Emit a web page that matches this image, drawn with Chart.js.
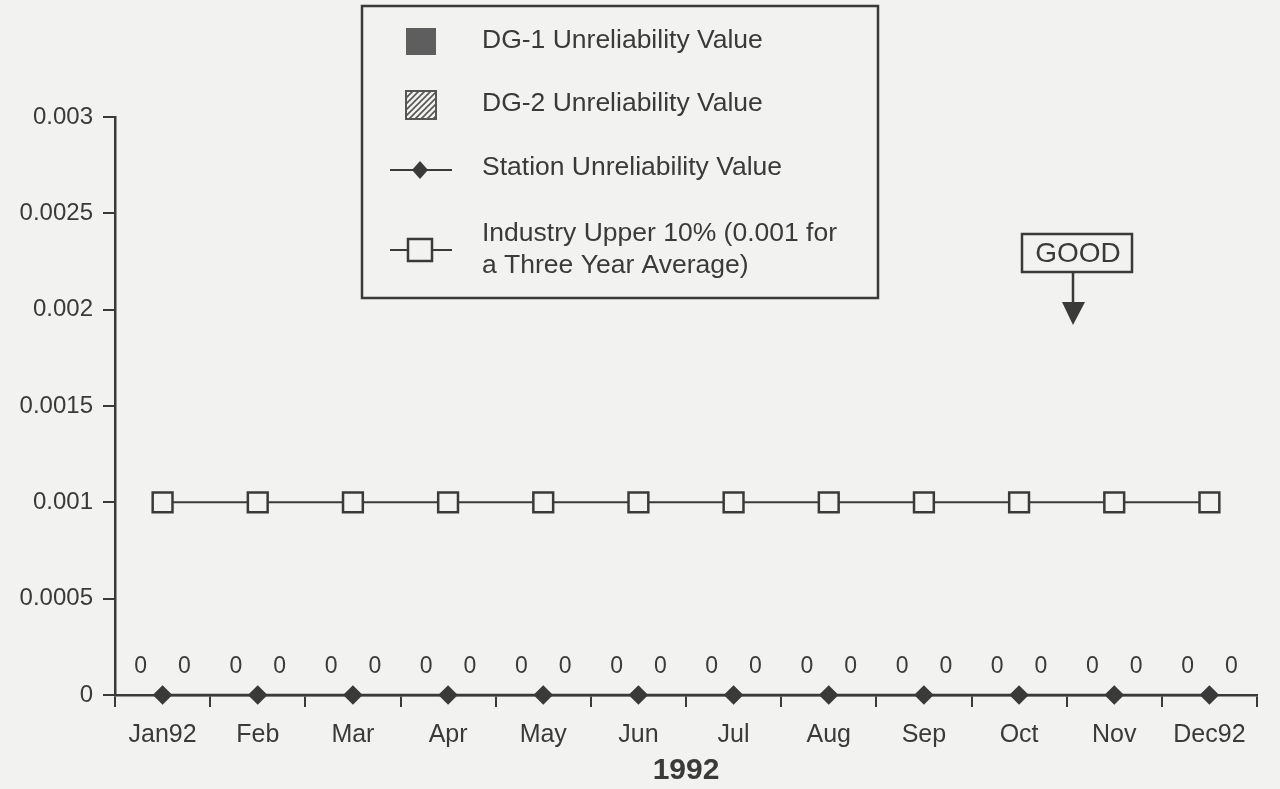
<!DOCTYPE html>
<html>
<head>
<meta charset="utf-8">
<script src="https://cdn.jsdelivr.net/npm/chart.js@4.4.1/dist/chart.umd.min.js"></script>
<style>
  html, body { margin: 0; padding: 0; background: #f2f2f0; }
  #wrap { width: 1280px; height: 789px; }
</style>
</head>
<body>
<div id="wrap"><canvas id="dg-chart" width="1280" height="789"></canvas></div>
<script>
const months = ['Jan92','Feb','Mar','Apr','May','Jun','Jul','Aug','Sep','Oct','Nov','Dec92'];
const dg1Values = [0,0,0,0,0,0,0,0,0,0,0,0];
const dg2Values = [0,0,0,0,0,0,0,0,0,0,0,0];
const stationValues = [0,0,0,0,0,0,0,0,0,0,0,0];
const industryValues = [0.001,0.001,0.001,0.001,0.001,0.001,0.001,0.001,0.001,0.001,0.001,0.001];
const yTickLabels = ['0','0.0005','0.001','0.0015','0.002','0.0025','0.003'];

const ink = '#3a3a3a';
const fontFam = '"Liberation Sans", Arial, Helvetica, sans-serif';

// page colour behind everything
const paperBg = {
  id: 'paperBg',
  beforeDraw(chart) {
    const c = chart.ctx;
    c.save();
    c.fillStyle = '#f2f2f0';
    c.fillRect(0, 0, chart.width, chart.height);
    c.restore();
  }
};

// the "0" printed over each (empty) bar
const barValueLabels = {
  id: 'barValueLabels',
  afterDatasetsDraw(chart) {
    const c = chart.ctx;
    c.save();
    c.fillStyle = ink;
    c.font = '23px ' + fontFam;
    c.textAlign = 'center';
    c.textBaseline = 'middle';
    chart.data.datasets.forEach((ds, i) => {
      if (ds.type !== 'bar') return;
      chart.getDatasetMeta(i).data.forEach((bar, j) => {
        c.fillText(String(ds.data[j]), bar.x, bar.y - 28);
      });
    });
    c.restore();
  }
};

function hatchPattern(c) {
  const p = document.createElement('canvas');
  p.width = 6; p.height = 6;
  const pc = p.getContext('2d');
  pc.fillStyle = '#f2f2f0';
  pc.fillRect(0, 0, 6, 6);
  pc.strokeStyle = '#555';
  pc.lineWidth = 1.6;
  pc.beginPath();
  pc.moveTo(-1, 7); pc.lineTo(7, -1);
  pc.moveTo(-1, 1); pc.lineTo(1, -1);
  pc.moveTo(5, 7); pc.lineTo(7, 5);
  pc.stroke();
  return c.createPattern(p, 'repeat');
}

// boxed legend at top centre, drawn from the dataset labels
const boxLegend = {
  id: 'boxLegend',
  afterDraw(chart) {
    const c = chart.ctx;
    const ds = chart.data.datasets;
    c.save();
    c.strokeStyle = ink;
    c.lineWidth = 2.5;
    c.strokeRect(362, 6, 516, 292);
    c.font = '26.5px ' + fontFam;
    c.fillStyle = ink;
    c.textBaseline = 'middle';
    c.textAlign = 'left';
    const tx = 482;
    // DG-1
    c.fillStyle = '#5e5e5e';
    c.fillRect(406, 28, 30, 27);
    c.fillStyle = ink;
    c.fillText(ds[0].label, tx, 41);
    // DG-2
    c.fillStyle = hatchPattern(c);
    c.fillRect(406, 91, 30, 28);
    c.lineWidth = 2;
    c.strokeStyle = '#555';
    c.strokeRect(406, 91, 30, 28);
    c.fillStyle = ink;
    c.fillText(ds[1].label, tx, 104);
    // Station
    c.strokeStyle = ink;
    c.lineWidth = 2;
    c.beginPath(); c.moveTo(390, 170); c.lineTo(452, 170); c.stroke();
    c.beginPath();
    c.moveTo(420, 161); c.lineTo(428, 170); c.lineTo(420, 179); c.lineTo(412, 170); c.closePath();
    c.fill();
    c.fillText(ds[3].label, tx, 168);
    // Industry
    c.beginPath(); c.moveTo(390, 250); c.lineTo(452, 250); c.stroke();
    c.fillStyle = '#f2f2f0';
    c.fillRect(408, 239, 24, 22);
    c.lineWidth = 2.5;
    c.strokeRect(408, 239, 24, 22);
    c.fillStyle = ink;
    const lines = ds[2].label;
    c.fillText(lines[0], tx, 234);
    c.fillText(lines[1], tx, 266);
    c.restore();
  }
};

// "GOOD" box with arrow pointing down
const goodMarker = {
  id: 'goodMarker',
  afterDraw(chart) {
    const c = chart.ctx;
    c.save();
    c.strokeStyle = ink;
    c.fillStyle = ink;
    c.lineWidth = 2.5;
    c.strokeRect(1022, 234, 110, 38);
    c.font = '28px ' + fontFam;
    c.textAlign = 'center';
    c.textBaseline = 'middle';
    c.fillText('GOOD', 1078, 254);
    c.beginPath(); c.moveTo(1073, 272); c.lineTo(1073, 305); c.stroke();
    c.beginPath();
    c.moveTo(1062, 302); c.lineTo(1085, 302); c.lineTo(1073, 325); c.closePath();
    c.fill();
    c.restore();
  }
};

const ctx = document.getElementById('dg-chart').getContext('2d');
const dgChart = new Chart(ctx, {
  plugins: [paperBg, barValueLabels, boxLegend, goodMarker],
  data: {
    labels: months,
    datasets: [
      {
        type: 'bar',
        label: 'DG-1 Unreliability Value',
        data: dg1Values,
        backgroundColor: '#5e5e5e',
        categoryPercentage: 0.92,
        barPercentage: 1.0,
        order: 3
      },
      {
        type: 'bar',
        label: 'DG-2 Unreliability Value',
        data: dg2Values,
        backgroundColor: '#888888',
        categoryPercentage: 0.92,
        barPercentage: 1.0,
        order: 3
      },
      {
        type: 'line',
        label: ['Industry Upper 10% (0.001 for', 'a Three Year Average)'],
        data: industryValues,
        borderColor: ink,
        borderWidth: 2,
        pointStyle: 'rect',
        pointRadius: 14,
        pointBackgroundColor: '#f2f2f0',
        pointBorderColor: ink,
        pointBorderWidth: 2.5,
        clip: false,
        order: 1
      },
      {
        type: 'line',
        label: 'Station Unreliability Value',
        data: stationValues,
        borderColor: ink,
        borderWidth: 2.5,
        pointStyle: 'rectRot',
        pointRadius: 8,
        pointBackgroundColor: ink,
        pointBorderColor: ink,
        clip: false,
        order: 0
      }
    ]
  },
  options: {
    responsive: false,
    animation: false,
    layout: { padding: { top: 117, right: 23, left: 0, bottom: 0 } },
    plugins: {
      legend: { display: false },
      tooltip: { enabled: false }
    },
    scales: {
      x: {
        offset: true,
        grid: {
          offset: true,
          drawOnChartArea: false,
          drawTicks: true,
          tickLength: 12,
          color: ink,
          lineWidth: 2
        },
        border: { color: ink, width: 2.5 },
        ticks: {
          color: ink,
          padding: 13,
          maxRotation: 0,
          autoSkip: false,
          font: { family: fontFam, size: 25 }
        },
        title: {
          display: true,
          text: '1992',
          color: ink,
          padding: { top: 0, bottom: 0 },
          font: { family: fontFam, size: 30, weight: 'bold' }
        },
        afterFit(scale) { scale.height = 94; }
      },
      y: {
        min: 0,
        max: 0.003,
        ticks: {
          stepSize: 0.0005,
          color: ink,
          padding: 10,
          font: { family: fontFam, size: 24 },
          callback: (v, i) => yTickLabels[i]
        },
        grid: {
          drawOnChartArea: false,
          drawTicks: true,
          tickLength: 12,
          color: ink,
          lineWidth: 2
        },
        border: { color: ink, width: 2.5 },
        afterFit(scale) { scale.width = 115; }
      }
    }
  }
});
</script>
</body>
</html>
